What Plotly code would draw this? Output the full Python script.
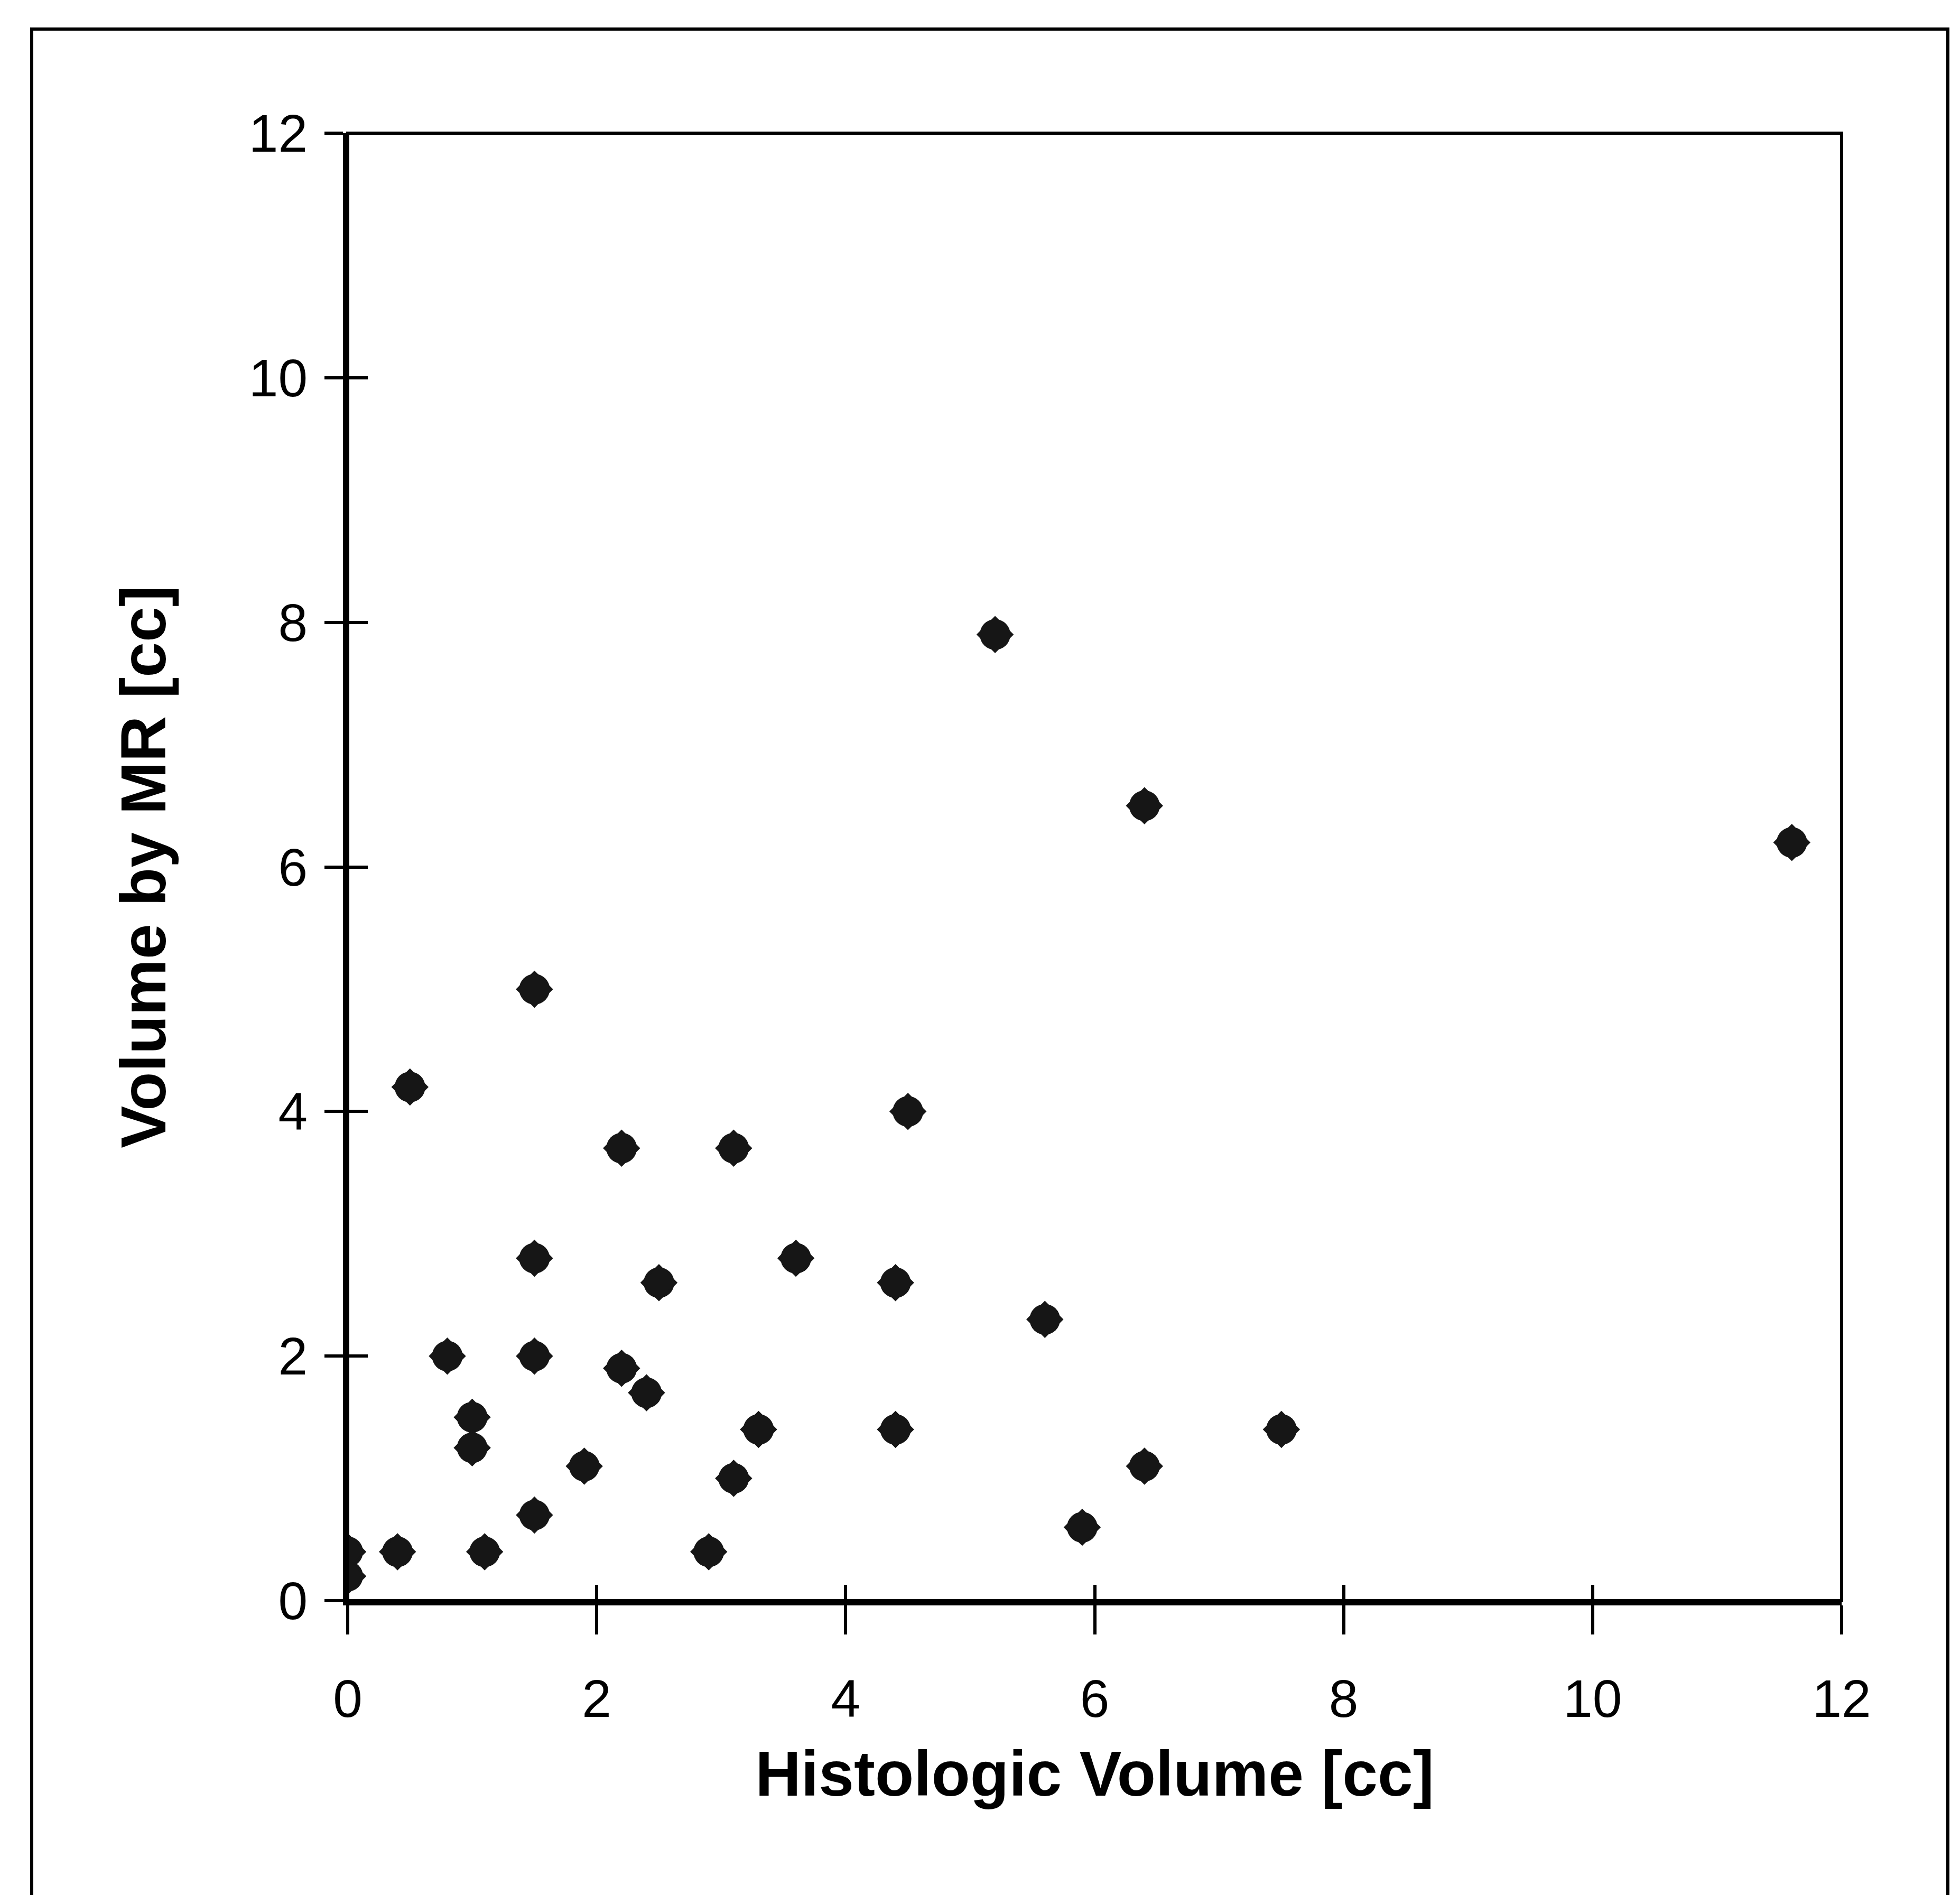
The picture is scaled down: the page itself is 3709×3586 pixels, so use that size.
import plotly.graph_objects as go

# Histologic volume (x) vs. volume by MR (y), in cc
histologic_volume = [5.2, 6.4, 11.6, 1.5, 0.5, 4.5, 2.2, 3.1, 1.5, 3.6, 2.5, 4.4, 5.6,
                     0.8, 1.5, 2.2, 2.4, 1.0, 1.0, 3.3, 4.4, 7.5, 1.9, 6.4, 3.1, 1.5,
                     5.9, 0.4, 1.1, 2.9, 0.0, 0.0]
mr_volume = [7.9, 6.5, 6.2, 5.0, 4.2, 4.0, 3.7, 3.7, 2.8, 2.8, 2.6, 2.6, 2.3,
             2.0, 2.0, 1.9, 1.7, 1.5, 1.25, 1.4, 1.4, 1.4, 1.1, 1.1, 1.0, 0.7,
             0.6, 0.4, 0.4, 0.4, 0.4, 0.2]
tick_values = [0, 2, 4, 6, 8, 10, 12]
x_title = "Histologic Volume [cc]"
y_title = "Volume by MR [cc]"

W, H = 3709, 3586
L, R, T, B = 650, 232, 244, 565
FONT = "Liberation Sans, Arial, Helvetica, sans-serif"
MARK = "#161616"

fig = go.Figure()
# rounded-diamond look: a circle under a diamond at each data point
fig.add_trace(go.Scatter(
    x=histologic_volume, y=mr_volume, mode="markers",
    marker=dict(symbol="circle", size=58, color=MARK, line=dict(width=0)),
    showlegend=False, hoverinfo="skip"))
fig.add_trace(go.Scatter(
    x=histologic_volume, y=mr_volume, mode="markers",
    marker=dict(symbol="diamond", size=52, color=MARK, line=dict(color=MARK, width=2)),
    showlegend=False, hoverinfo="x+y"))
# invisible trace for overlay axes (inside tick marks)
fig.add_trace(go.Scatter(x=[0], y=[0], xaxis="x2", yaxis="y2", mode="markers",
                         marker=dict(opacity=0), showlegend=False, hoverinfo="skip"))

axis_common = dict(range=[0, 12], tickvals=tick_values, showgrid=False, zeroline=False,
                   tickcolor="black", tickwidth=6, color="black")

fig.update_layout(
    width=W, height=H,
    margin=dict(l=L, r=R, t=T, b=B, autoexpand=False),
    paper_bgcolor="white", plot_bgcolor="white",
    font=dict(family=FONT, color="black"),
    xaxis=dict(**axis_common, ticks="outside", ticklen=55, showline=True,
               linewidth=9, linecolor="black",
               tickfont=dict(size=100, family=FONT), ticklabelstandoff=36,
               title=dict(text="<b>" + x_title + "</b>", font=dict(size=120, family=FONT),
                          standoff=48)),
    yaxis=dict(**axis_common, ticks="outside", ticklen=35, showline=True,
               linewidth=9, linecolor="black",
               tickfont=dict(size=100, family=FONT), ticklabelstandoff=12,
               title=dict(text="<b>" + y_title + "</b>", font=dict(size=120, family=FONT),
                          standoff=120)),
    xaxis2=dict(**axis_common, overlaying="x", anchor="y2", side="bottom", ticks="inside",
                ticklen=30, showticklabels=False, showline=False),
    yaxis2=dict(**axis_common, overlaying="y", anchor="x2", side="left", ticks="inside",
                ticklen=38, showticklabels=False, showline=False),
    shapes=[
        dict(type="rect", xref="x domain", yref="y domain", x0=0, x1=1, y0=0, y1=1,
             line=dict(color="black", width=6), layer="above"),
        dict(type="rect", xref="paper", yref="paper",
             x0=(52 - L) / (W - L - R), x1=(3678 - L) / (W - L - R),
             y0=-0.25, y1=(H - B - 47) / (H - T - B),
             line=dict(color="black", width=6), layer="above"),
    ],
)

fig.write_html("out.html")
